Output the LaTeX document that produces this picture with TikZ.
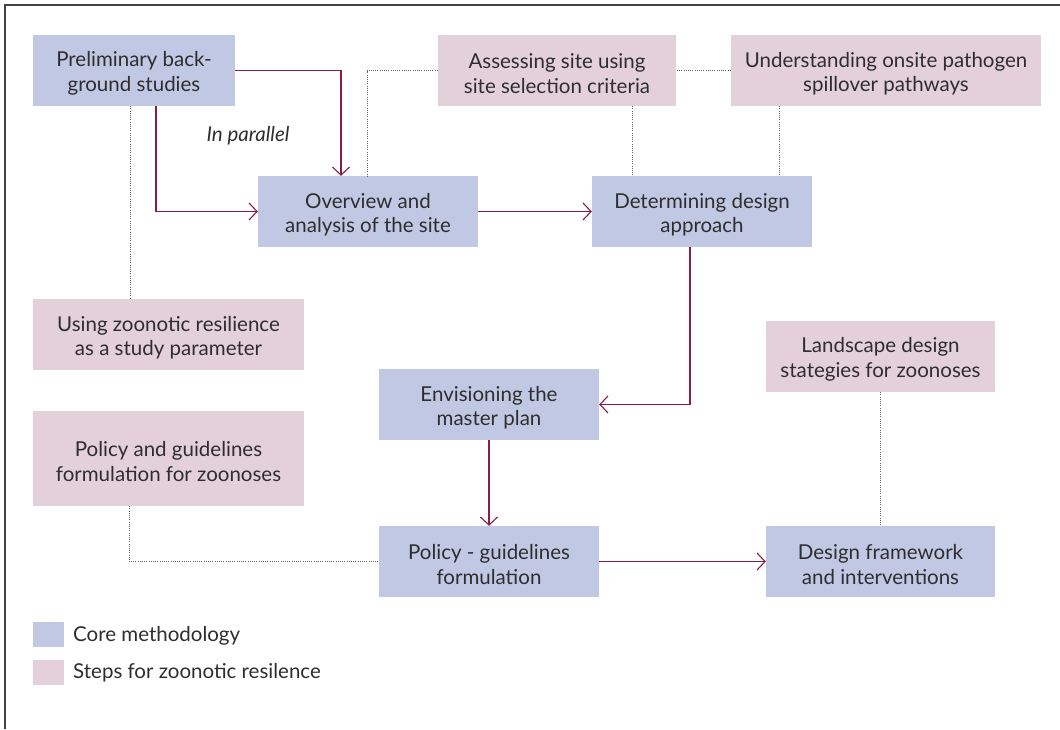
\documentclass[tikz,border=0pt]{standalone}
\usepackage{fontspec}
\setmainfont{Lato}
\usetikzlibrary{arrows.meta}
\definecolor{coreblue}{HTML}{C1C8E4}
\definecolor{zoopink}{HTML}{E4D0D9}
\definecolor{flow}{HTML}{8A1C4A}
\definecolor{ink}{HTML}{2E2E2E}
\begin{document}
\begin{tikzpicture}[x=1pt, y=-1pt,
  every node/.style={text=ink, font=\fontsize{20.5}{24.5}\selectfont, align=center, inner sep=0pt},
  core/.style={fill=coreblue, minimum height=71pt},
  zoo/.style={fill=zoopink, minimum height=71pt},
  boxtext/.style={yshift=-3pt},
  swatch/.style={minimum width=31pt, minimum height=25pt},
  flowline/.style={draw=flow, line width=1.1pt, -{Straight Barb[length=8pt, width=17pt, line width=1.1pt]}},
  link/.style={draw=black!62, line width=1pt, dash pattern=on 1pt off 1.2pt}
]
\useasboundingbox (0,0) rectangle (1060,729);
% frame
\draw[draw=ink!90, line width=1.4pt] (5,729) -- (5,5) -- (1060,5);

% core methodology boxes
\node[core, minimum width=202pt] (prelim) at (134,70.5) {};
\node[core, minimum width=220pt] (overview) at (368,211.5) {};
\node[core, minimum width=220pt] (approach) at (702,211.5) {};
\node[core, minimum width=220pt] (master) at (489,404.5) {};
\node[core, minimum width=220pt] (policy) at (489,561.5) {};
\node[core, minimum width=229pt] (design) at (880.5,561.5) {};

% steps for zoonotic resilience boxes
\node[zoo, minimum width=238pt] (assess) at (557,70.5) {};
\node[zoo, minimum width=310pt] (spill) at (886,70.5) {};
\node[zoo, minimum width=271pt] (param) at (168.5,334.5) {};
\node[zoo, minimum width=271pt, minimum height=95pt] (polzoo) at (168.5,458.5) {};
\node[zoo, minimum width=229pt] (land) at (880.5,356.5) {};

% box captions
\node[boxtext] (prelimtext) at (prelim) {Preliminary back-\\ground studies};
\node[boxtext] (overviewtext) at (overview) {Overview and\\analysis of the site};
\node[boxtext] (approachtext) at (approach) {Determining design\\approach};
\node[boxtext] (mastertext) at (master) {Envisioning the\\master plan};
\node[boxtext] (policytext) at (policy) {Policy - guidelines\\formulation};
\node[boxtext] (designtext) at (design) {Design framework\\and interventions};
\node[boxtext] (assesstext) at (assess) {Assessing site using\\site selection criteria};
\node[boxtext] (spilltext) at (spill) {Understanding onsite pathogen\\spillover pathways};
\node[boxtext] (paramtext) at (param) {Using zoonotic resilience\\as a study parameter};
\node[boxtext] (polzootext) at (polzoo) {Policy and guidelines\\formulation for zoonoses};
\node[boxtext] (landtext) at (land) {Landscape design\\stategies for zoonoses};

\node[font=\fontsize{20.5}{24.5}\selectfont\itshape] (par) at (248,136) {In parallel};

% main flow
\draw[flowline] (prelim.east) -| ([xshift=-27pt]overview.north);
\draw[flowline] ([xshift=22pt]prelim.south) |- (overview.west);
\draw[flowline] (overview) -- (approach);
\draw[flowline] ([xshift=-12pt]approach.south) |- (master.east);
\draw[flowline] (master) -- (policy);
\draw[flowline] (policy) -- (design);

% zoonotic resilience links
\draw[link] ([xshift=-4pt]prelim.south) -- ([xshift=-38.5pt]param.north);
\draw[link] (assess.west) -| ([xshift=-1pt]overview.north);
\draw[link] ([xshift=75pt]assess.south) -- ([xshift=-70pt]approach.north);
\draw[link] (spill.west) -- (assess.east);
\draw[link] ([xshift=-107pt]spill.south) -- ([xshift=77pt]approach.north);
\draw[link] ([xshift=-39.5pt]polzoo.south) |- (policy.west);
\draw[link] (land) -- (design);

% legend
\node[swatch, fill=coreblue] (keycore) at (48.5,634.5) {};
\node[anchor=west] (keycoretext) at (73,636) {Core methodology};
\node[swatch, fill=zoopink] (keyzoo) at (48.5,672.5) {};
\node[anchor=west] (keyzootext) at (73,673) {Steps for zoonotic resilence};
\end{tikzpicture}
\end{document}
